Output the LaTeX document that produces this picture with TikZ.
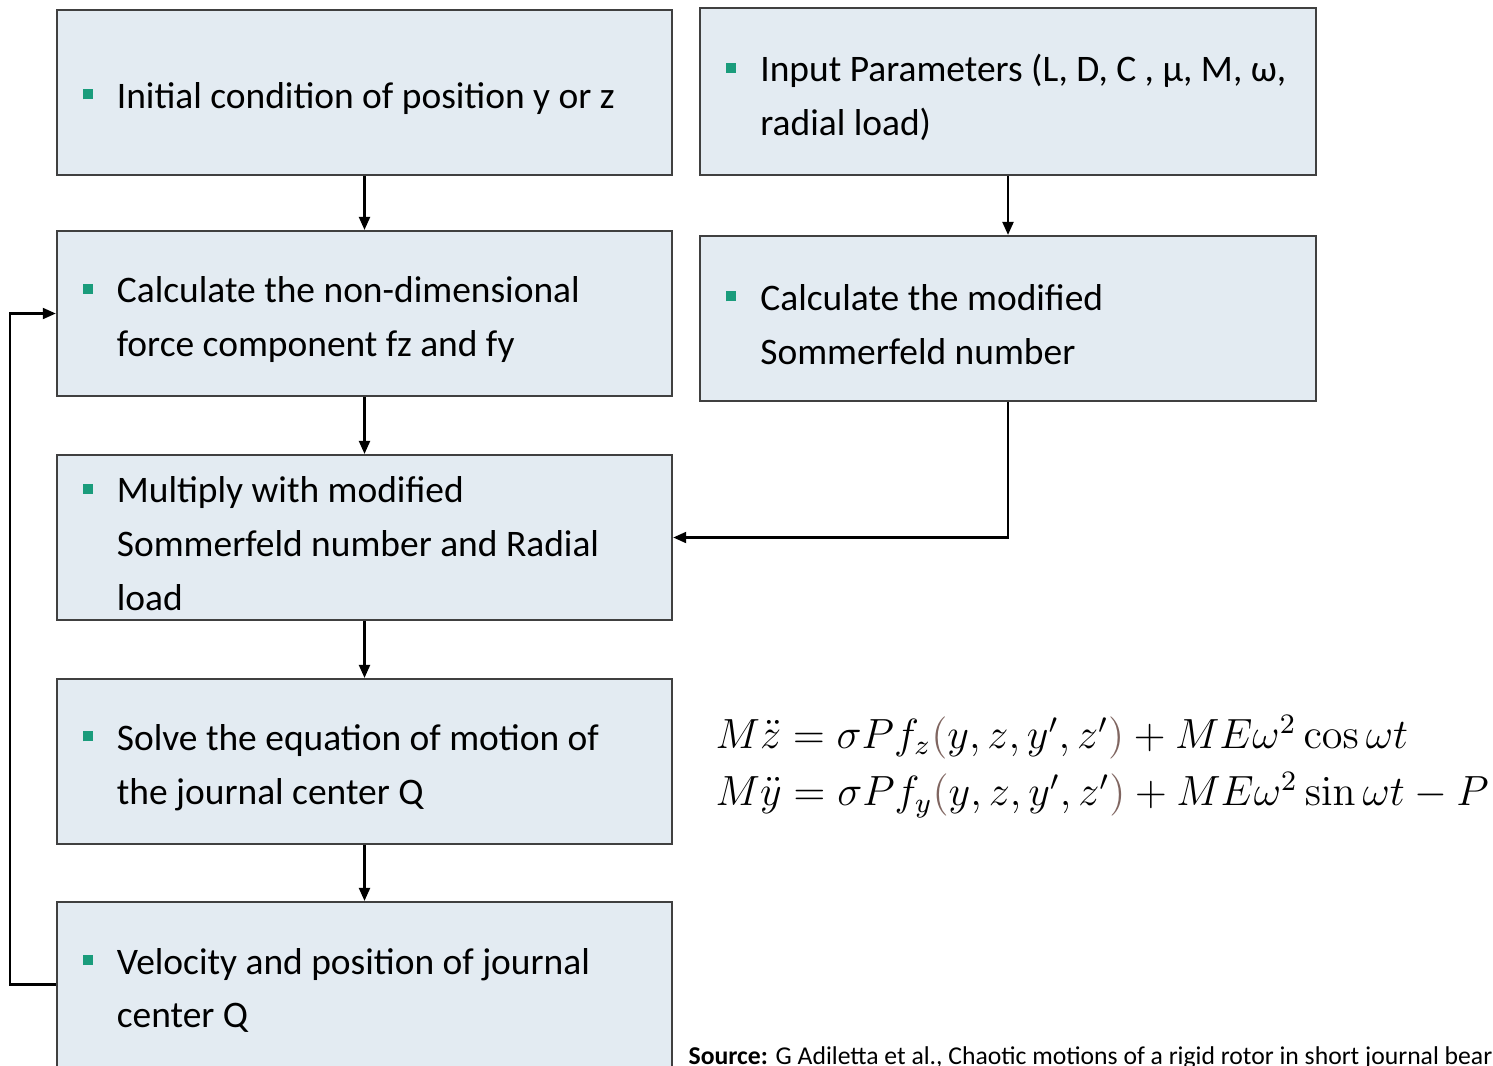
\documentclass[tikz,border=0pt]{standalone}
\usepackage[no-math]{fontspec}
\setmainfont{Carlito}
\usepackage{xcolor}
\usepackage{tikz}
\usetikzlibrary{arrows.meta}
\usetikzlibrary{calc}

\definecolor{boxfill}{HTML}{E3EBF2}
\definecolor{boxline}{HTML}{404040}
\definecolor{bulgreen}{HTML}{1A9C7C}
\definecolor{parcol}{HTML}{7F6560}

%puce carree + texte
\newcommand{\itm}[1]{\raisebox{-0.06cm}[\height][\depth]{\makebox[0.34cm][l]{\raisebox{0.09cm}{\textcolor{bulgreen}{\rule{0.1cm}{0.1cm}}}}\parbox[t]{5.29cm}{#1}}}
\newcommand{\brk}[1]{{\color{parcol}#1}}

\begin{document}
\begin{tikzpicture}[x=0.01cm,y=-0.01cm,
	box/.style={draw=boxline,line width=0.6pt,fill=boxfill,minimum width=6.15cm,minimum height=1.65cm,inner sep=0pt,font=\fontsize{10.65}{15.3}\selectfont},
	arr/.style={line width=0.6pt,-{Triangle[length=0.13cm,width=0.11cm]}}]
\useasboundingbox (0,0) rectangle (1493,1066);
\begin{scope}
	%colonne de gauche
	\node[box] (B1) at (364.5,92.5) {\itm{Initial condition of position y or z}};
	\node[box] (B2) at (364.5,313.5) {\itm{Calculate the non-dimensional\\force component fz and fy}};
	\node[box] (B3) at (364.5,537.5) {\itm{Multiply with modified\\Sommerfeld number and Radial\\load}};
	\node[box] (B4) at (364.5,761.5) {\itm{Solve the equation of motion of\\the journal center Q}};
	\node[box] (B5) at (364.5,984.5) {\itm{Velocity and position of journal\\center Q}};
	\draw[arr] (B1.south) -- (B2.north);
	\draw[arr] (B2.south) -- (B3.north);
	\draw[arr] (B3.south) -- (B4.north);
	\draw[arr] (B4.south) -- (B5.north);
	%retour
	\draw[arr] (B5.west) -- ++(-46,0) |- (B2.west);
\end{scope}
\begin{scope}
	%colonne de droite
	\node[box,minimum height=1.67cm,minimum width=6.16cm] (R1) at (1008,91.5) {\itm{Input Parameters (L, D, C , μ, M, ω,\\radial load)}};
	\node[box,minimum width=6.16cm] (R2) at (1008,318.5) {\itm{Calculate the modified\\Sommerfeld number}};
	\draw[arr] (R1.south) -- (R2.north);
	\draw[arr] (R2.south) |- (B3.east);
\end{scope}
\begin{scope}[font=\fontsize{11.7}{14}\selectfont]
	%equations
	\node[anchor=west,inner sep=0pt] (EZ) at (715,737) {$M\ddot{z} = \sigma P f_z\brk{(}y,z,y',z'\brk{)} + ME\omega^2\cos\omega t$};
	\node[anchor=west,inner sep=0pt] (EY) at (715,795) {$M\ddot{y} = \sigma P f_y\brk{(}y,z,y',z'\brk{)} + ME\omega^2\sin\omega t - P$};
\end{scope}
\node[anchor=base west,inner sep=0pt,font=\fontsize{7.3}{8}\selectfont] (SRC) at (688,1064) {\textbf{Source:} G Adiletta et al., Chaotic motions of a rigid rotor in short journal bearings};
\end{tikzpicture}
\end{document}
